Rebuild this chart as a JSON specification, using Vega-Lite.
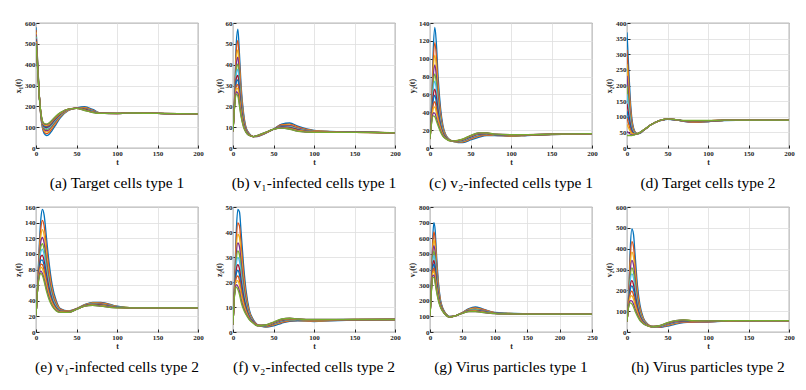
{
"$schema":"https://vega.github.io/schema/vega-lite/v6.json",
"background":"white",
"padding":{"left":14,"top":18,"right":5,"bottom":5},
"columns":4,
"spacing":{"row":59,"column":35},
"bounds":"flush",
"config":{
"view":{"stroke":"#262626","strokeWidth":0.8},
"axis":{"labelFont":"Liberation Serif","labelFontWeight":"bold","labelFontSize":7,"labelColor":"#262626","titleFont":"Liberation Serif","titleFontSize":8,"titleFontWeight":"bold","titleColor":"#262626","gridColor":"#dedede","gridWidth":0.8,"domain":false,"tickColor":"#262626","tickSize":-3,"labelPadding":4,"titlePadding":2,"labelFlush":false},
"title":{"orient":"bottom","font":"Liberation Serif","fontSize":15.5,"fontWeight":"normal","color":"#000","offset":10}
},
"data":{"values":[
{"p":"a","t":0,"c0":580,"c1":566,"c2":555,"c3":546,"c4":538,"c5":532,"c6":525,"c7":519,"c8":514,"c9":509,"c10":503,"c11":500},
{"p":"a","t":2,"c0":420,"c1":413,"c2":408,"c3":403,"c4":399,"c5":396,"c6":392,"c7":390,"c8":387,"c9":384,"c10":382,"c11":380},
{"p":"a","t":4,"c0":260,"c1":258,"c2":257,"c3":256,"c4":255,"c5":254,"c6":253,"c7":252,"c8":252,"c9":251,"c10":250,"c11":250},
{"p":"a","t":6,"c0":150,"c1":153,"c2":156,"c3":158,"c4":160,"c5":162,"c6":164,"c7":165,"c8":167,"c9":168,"c10":169,"c11":170},
{"p":"a","t":8,"c0":95,"c1":101,"c2":106,"c3":110,"c4":113,"c5":116,"c6":119,"c7":122,"c8":124,"c9":126,"c10":129,"c11":130},
{"p":"a","t":10,"c0":70,"c1":78,"c2":85,"c3":90,"c4":95,"c5":99,"c6":103,"c7":106,"c8":110,"c9":113,"c10":116,"c11":118},
{"p":"a","t":13,"c0":60,"c1":69,"c2":77,"c3":83,"c4":89,"c5":93,"c6":98,"c7":102,"c8":106,"c9":109,"c10":113,"c11":115},
{"p":"a","t":16,"c0":65,"c1":74,"c2":82,"c3":88,"c4":94,"c5":98,"c6":103,"c7":107,"c8":111,"c9":114,"c10":118,"c11":120},
{"p":"a","t":20,"c0":85,"c1":94,"c2":101,"c3":106,"c4":111,"c5":115,"c6":120,"c7":123,"c8":127,"c9":130,"c10":133,"c11":135},
{"p":"a","t":25,"c0":115,"c1":122,"c2":127,"c3":132,"c4":136,"c5":139,"c6":143,"c7":145,"c8":148,"c9":151,"c10":153,"c11":155},
{"p":"a","t":30,"c0":145,"c1":149,"c2":153,"c3":156,"c4":158,"c5":160,"c6":162,"c7":164,"c8":166,"c9":167,"c10":169,"c11":170},
{"p":"a","t":40,"c0":180,"c1":181,"c2":182,"c3":183,"c4":184,"c5":184,"c6":185,"c7":185,"c8":186,"c9":186,"c10":187,"c11":187},
{"p":"a","t":50,"c0":192,"c1":192,"c2":191,"c3":191,"c4":191,"c5":191,"c6":191,"c7":190,"c8":190,"c9":190,"c10":190,"c11":190},
{"p":"a","t":60,"c0":198,"c1":195,"c2":192,"c3":190,"c4":189,"c5":187,"c6":186,"c7":184,"c8":183,"c9":182,"c10":181,"c11":180},
{"p":"a","t":70,"c0":185,"c1":182,"c2":180,"c3":179,"c4":177,"c5":176,"c6":175,"c7":174,"c8":173,"c9":172,"c10":171,"c11":170},
{"p":"a","t":80,"c0":168,"c1":168,"c2":167,"c3":167,"c4":167,"c5":167,"c6":167,"c7":166,"c8":166,"c9":166,"c10":166,"c11":166},
{"p":"a","t":100,"c0":165,"c1":165,"c2":165,"c3":165,"c4":166,"c5":166,"c6":166,"c7":166,"c8":166,"c9":166,"c10":166,"c11":166},
{"p":"a","t":120,"c0":170,"c1":170,"c2":169,"c3":169,"c4":169,"c5":169,"c6":169,"c7":168,"c8":168,"c9":168,"c10":168,"c11":168},
{"p":"a","t":150,"c0":166,"c1":166,"c2":166,"c3":166,"c4":166,"c5":166,"c6":166,"c7":166,"c8":166,"c9":166,"c10":166,"c11":166},
{"p":"a","t":200,"c0":164,"c1":164,"c2":164,"c3":164,"c4":164,"c5":164,"c6":164,"c7":164,"c8":164,"c9":164,"c10":164,"c11":164},

{"p":"b","t":0,"c0":8,"c1":8,"c2":8,"c3":8,"c4":8,"c5":8,"c6":8,"c7":8,"c8":8,"c9":8,"c10":8,"c11":8},
{"p":"b","t":2,"c0":25,"c1":24.2,"c2":23.5,"c3":22.9,"c4":22.4,"c5":22,"c6":21.6,"c7":21.2,"c8":20.9,"c9":20.6,"c10":20.2,"c11":20},
{"p":"b","t":4,"c0":50,"c1":45.9,"c2":42.6,"c3":39.9,"c4":37.5,"c5":35.6,"c6":33.4,"c7":31.8,"c8":30.1,"c9":28.6,"c10":27,"c11":26},
{"p":"b","t":6,"c0":57,"c1":51.6,"c2":47.1,"c3":43.6,"c4":40.4,"c5":37.8,"c6":34.9,"c7":32.7,"c8":30.4,"c9":28.5,"c10":26.3,"c11":25},
{"p":"b","t":8,"c0":45,"c1":40.8,"c2":37.3,"c3":34.5,"c4":32,"c5":30,"c6":27.8,"c7":26,"c8":24.3,"c9":22.8,"c10":21,"c11":20},
{"p":"b","t":10,"c0":30,"c1":27.5,"c2":25.4,"c3":23.7,"c4":22.2,"c5":21,"c6":19.7,"c7":18.6,"c8":17.6,"c9":16.7,"c10":15.6,"c11":15},
{"p":"b","t":13,"c0":17,"c1":15.8,"c2":14.8,"c3":14.1,"c4":13.4,"c5":12.8,"c6":12.2,"c7":11.7,"c8":11.2,"c9":10.8,"c10":10.3,"c11":10},
{"p":"b","t":16,"c0":10,"c1":9.6,"c2":9.2,"c3":9,"c4":8.7,"c5":8.5,"c6":8.3,"c7":8.1,"c8":7.9,"c9":7.8,"c10":7.6,"c11":7.5},
{"p":"b","t":20,"c0":7,"c1":6.8,"c2":6.7,"c3":6.6,"c4":6.5,"c5":6.4,"c6":6.3,"c7":6.2,"c8":6.2,"c9":6.1,"c10":6,"c11":6},
{"p":"b","t":25,"c0":5.5,"c1":5.5,"c2":5.5,"c3":5.5,"c4":5.5,"c5":5.5,"c6":5.5,"c7":5.5,"c8":5.5,"c9":5.5,"c10":5.5,"c11":5.5},
{"p":"b","t":30,"c0":5.5,"c1":5.6,"c2":5.7,"c3":5.7,"c4":5.8,"c5":5.8,"c6":5.8,"c7":5.9,"c8":5.9,"c9":5.9,"c10":6,"c11":6},
{"p":"b","t":40,"c0":7,"c1":7.1,"c2":7.2,"c3":7.2,"c4":7.3,"c5":7.3,"c6":7.3,"c7":7.4,"c8":7.4,"c9":7.4,"c10":7.5,"c11":7.5},
{"p":"b","t":50,"c0":9,"c1":9,"c2":9,"c3":9,"c4":9,"c5":9,"c6":9,"c7":9,"c8":9,"c9":9,"c10":9,"c11":9},
{"p":"b","t":60,"c0":11.5,"c1":11.2,"c2":10.9,"c3":10.7,"c4":10.5,"c5":10.3,"c6":10.1,"c7":10,"c8":9.8,"c9":9.7,"c10":9.6,"c11":9.5},
{"p":"b","t":70,"c0":12,"c1":11.5,"c2":11.1,"c3":10.7,"c4":10.4,"c5":10.2,"c6":9.9,"c7":9.7,"c8":9.5,"c9":9.3,"c10":9.1,"c11":9},
{"p":"b","t":80,"c0":10.5,"c1":10.1,"c2":9.7,"c3":9.5,"c4":9.2,"c5":9,"c6":8.8,"c7":8.6,"c8":8.4,"c9":8.3,"c10":8.1,"c11":8},
{"p":"b","t":100,"c0":8.5,"c1":8.3,"c2":8.2,"c3":8.1,"c4":8,"c5":7.9,"c6":7.8,"c7":7.7,"c8":7.7,"c9":7.6,"c10":7.5,"c11":7.5},
{"p":"b","t":120,"c0":8,"c1":7.9,"c2":7.8,"c3":7.8,"c4":7.7,"c5":7.7,"c6":7.7,"c7":7.6,"c8":7.6,"c9":7.6,"c10":7.5,"c11":7.5},
{"p":"b","t":150,"c0":7.8,"c1":7.7,"c2":7.7,"c3":7.7,"c4":7.6,"c5":7.6,"c6":7.6,"c7":7.6,"c8":7.5,"c9":7.5,"c10":7.5,"c11":7.5},
{"p":"b","t":200,"c0":7.3,"c1":7.3,"c2":7.3,"c3":7.3,"c4":7.3,"c5":7.3,"c6":7.3,"c7":7.3,"c8":7.3,"c9":7.3,"c10":7.3,"c11":7.3},

{"p":"c","t":0,"c0":10,"c1":10,"c2":10,"c3":10,"c4":10,"c5":10,"c6":10,"c7":10,"c8":10,"c9":10,"c10":10,"c11":10},
{"p":"c","t":2,"c0":50,"c1":46,"c2":43,"c3":41,"c4":39,"c5":37,"c6":35,"c7":33,"c8":32,"c9":30,"c10":29,"c11":28},
{"p":"c","t":4,"c0":110,"c1":97,"c2":87,"c3":79,"c4":72,"c5":66,"c6":59,"c7":54,"c8":49,"c9":44,"c10":39,"c11":36},
{"p":"c","t":6,"c0":135,"c1":118,"c2":104,"c3":93,"c4":83,"c5":75,"c6":66,"c7":59,"c8":52,"c9":46,"c10":39,"c11":35},
{"p":"c","t":8,"c0":115,"c1":101,"c2":89,"c3":79,"c4":71,"c5":64,"c6":56,"c7":50,"c8":44,"c9":39,"c10":33,"c11":30},
{"p":"c","t":10,"c0":80,"c1":71,"c2":63,"c3":57,"c4":51,"c5":47,"c6":42,"c7":38,"c8":34,"c9":31,"c10":27,"c11":25},
{"p":"c","t":13,"c0":45,"c1":40,"c2":37,"c3":34,"c4":31,"c5":29,"c6":26,"c7":25,"c8":23,"c9":21,"c10":19,"c11":18},
{"p":"c","t":16,"c0":25,"c1":23,"c2":21.3,"c3":20,"c4":18.8,"c5":17.8,"c6":16.7,"c7":15.9,"c8":15,"c9":14.3,"c10":13.5,"c11":13},
{"p":"c","t":20,"c0":14,"c1":13.3,"c2":12.8,"c3":12.3,"c4":11.9,"c5":11.6,"c6":11.2,"c7":11,"c8":10.7,"c9":10.4,"c10":10.2,"c11":10},
{"p":"c","t":25,"c0":9,"c1":8.8,"c2":8.7,"c3":8.6,"c4":8.5,"c5":8.4,"c6":8.3,"c7":8.2,"c8":8.2,"c9":8.1,"c10":8,"c11":8},
{"p":"c","t":30,"c0":7,"c1":7.2,"c2":7.3,"c3":7.4,"c4":7.5,"c5":7.6,"c6":7.7,"c7":7.8,"c8":7.8,"c9":7.9,"c10":8,"c11":8},
{"p":"c","t":40,"c0":6,"c1":6.7,"c2":7.2,"c3":7.7,"c4":8.1,"c5":8.4,"c6":8.8,"c7":9,"c8":9.3,"c9":9.6,"c10":9.8,"c11":10},
{"p":"c","t":50,"c0":9,"c1":9.9,"c2":10.6,"c3":11.1,"c4":11.6,"c5":12,"c6":12.5,"c7":12.8,"c8":13.2,"c9":13.5,"c10":13.8,"c11":14},
{"p":"c","t":60,"c0":12,"c1":12.9,"c2":13.6,"c3":14.1,"c4":14.6,"c5":15,"c6":15.5,"c7":15.8,"c8":16.2,"c9":16.5,"c10":16.8,"c11":17},
{"p":"c","t":70,"c0":14,"c1":14.5,"c2":14.9,"c3":15.3,"c4":15.6,"c5":15.8,"c6":16.1,"c7":16.3,"c8":16.5,"c9":16.7,"c10":16.9,"c11":17},
{"p":"c","t":80,"c0":14,"c1":14.3,"c2":14.5,"c3":14.6,"c4":14.8,"c5":14.9,"c6":15,"c7":15.1,"c8":15.2,"c9":15.3,"c10":15.4,"c11":15.5},
{"p":"c","t":100,"c0":13,"c1":13.3,"c2":13.6,"c3":13.8,"c4":14,"c5":14.2,"c6":14.4,"c7":14.5,"c8":14.7,"c9":14.8,"c10":14.9,"c11":15},
{"p":"c","t":120,"c0":14,"c1":14.2,"c2":14.3,"c3":14.4,"c4":14.5,"c5":14.6,"c6":14.7,"c7":14.8,"c8":14.8,"c9":14.9,"c10":15,"c11":15},
{"p":"c","t":150,"c0":15,"c1":15.1,"c2":15.2,"c3":15.2,"c4":15.3,"c5":15.3,"c6":15.3,"c7":15.4,"c8":15.4,"c9":15.4,"c10":15.5,"c11":15.5},
{"p":"c","t":200,"c0":16,"c1":16,"c2":16,"c3":16,"c4":16,"c5":16,"c6":16,"c7":16,"c8":16,"c9":16,"c10":16,"c11":16},

{"p":"d","t":0,"c0":370,"c1":314,"c2":268,"c3":231,"c4":198,"c5":172,"c6":142,"c7":119,"c8":96,"c9":76,"c10":53,"c11":40},
{"p":"d","t":2,"c0":260,"c1":223,"c2":192,"c3":168,"c4":146,"c5":128,"c6":108,"c7":93,"c8":77,"c9":64,"c10":49,"c11":40},
{"p":"d","t":4,"c0":160,"c1":140,"c2":123,"c3":110,"c4":98,"c5":88,"c6":77,"c7":69,"c8":60,"c9":53,"c10":45,"c11":40},
{"p":"d","t":6,"c0":95,"c1":86,"c2":78,"c3":72,"c4":66,"c5":62,"c6":57,"c7":53,"c8":49,"c9":46,"c10":42,"c11":40},
{"p":"d","t":8,"c0":65,"c1":61,"c2":58,"c3":55,"c4":53,"c5":51,"c6":48,"c7":47,"c8":45,"c9":44,"c10":42,"c11":41},
{"p":"d","t":10,"c0":52,"c1":50.5,"c2":49.2,"c3":48.2,"c4":47.3,"c5":46.6,"c6":45.8,"c7":45.2,"c8":44.5,"c9":44,"c10":43.4,"c11":43},
{"p":"d","t":13,"c0":46,"c1":46,"c2":46,"c3":46,"c4":46,"c5":46,"c6":46,"c7":46,"c8":46,"c9":46,"c10":46,"c11":46},
{"p":"d","t":16,"c0":47,"c1":47.5,"c2":47.9,"c3":48.3,"c4":48.6,"c5":48.8,"c6":49.1,"c7":49.3,"c8":49.5,"c9":49.7,"c10":49.9,"c11":50},
{"p":"d","t":20,"c0":55,"c1":55.3,"c2":55.6,"c3":55.8,"c4":56,"c5":56.2,"c6":56.4,"c7":56.5,"c8":56.7,"c9":56.8,"c10":56.9,"c11":57},
{"p":"d","t":25,"c0":65,"c1":65.2,"c2":65.3,"c3":65.4,"c4":65.5,"c5":65.6,"c6":65.7,"c7":65.8,"c8":65.8,"c9":65.9,"c10":66,"c11":66},
{"p":"d","t":30,"c0":75,"c1":75,"c2":75,"c3":75,"c4":75,"c5":75,"c6":75,"c7":75,"c8":75,"c9":75,"c10":75,"c11":75},
{"p":"d","t":40,"c0":87,"c1":87.2,"c2":87.3,"c3":87.4,"c4":87.5,"c5":87.6,"c6":87.7,"c7":87.8,"c8":87.8,"c9":87.9,"c10":88,"c11":88},
{"p":"d","t":50,"c0":92,"c1":92.2,"c2":92.3,"c3":92.4,"c4":92.5,"c5":92.6,"c6":92.7,"c7":92.8,"c8":92.8,"c9":92.9,"c10":93,"c11":93},
{"p":"d","t":60,"c0":90,"c1":90.2,"c2":90.3,"c3":90.4,"c4":90.5,"c5":90.6,"c6":90.7,"c7":90.8,"c8":90.8,"c9":90.9,"c10":91,"c11":91},
{"p":"d","t":70,"c0":85,"c1":85.5,"c2":85.9,"c3":86.3,"c4":86.6,"c5":86.8,"c6":87.1,"c7":87.3,"c8":87.5,"c9":87.7,"c10":87.9,"c11":88},
{"p":"d","t":80,"c0":82,"c1":83,"c2":83.9,"c3":84.5,"c4":85.1,"c5":85.6,"c6":86.1,"c7":86.6,"c8":87,"c9":87.3,"c10":87.8,"c11":88},
{"p":"d","t":100,"c0":84,"c1":84.7,"c2":85.2,"c3":85.7,"c4":86.1,"c5":86.4,"c6":86.8,"c7":87,"c8":87.3,"c9":87.6,"c10":87.8,"c11":88},
{"p":"d","t":120,"c0":88,"c1":88.2,"c2":88.3,"c3":88.4,"c4":88.5,"c5":88.6,"c6":88.7,"c7":88.8,"c8":88.8,"c9":88.9,"c10":89,"c11":89},
{"p":"d","t":150,"c0":89,"c1":89,"c2":89,"c3":89,"c4":89,"c5":89,"c6":89,"c7":89,"c8":89,"c9":89,"c10":89,"c11":89},
{"p":"d","t":200,"c0":89,"c1":89,"c2":89,"c3":89,"c4":89,"c5":89,"c6":89,"c7":89,"c8":89,"c9":89,"c10":89,"c11":89},

{"p":"e","t":0,"c0":20,"c1":20,"c2":20,"c3":20,"c4":20,"c5":20,"c6":20,"c7":20,"c8":20,"c9":20,"c10":20,"c11":20},
{"p":"e","t":2,"c0":60,"c1":59.2,"c2":58.5,"c3":57.9,"c4":57.4,"c5":57,"c6":56.6,"c7":56.2,"c8":55.9,"c9":55.6,"c10":55.2,"c11":55},
{"p":"e","t":4,"c0":110,"c1":103,"c2":98,"c3":93,"c4":89,"c5":86,"c6":82,"c7":80,"c8":77,"c9":74,"c10":72,"c11":70},
{"p":"e","t":6,"c0":145,"c1":133,"c2":123,"c3":116,"c4":109,"c5":103,"c6":97,"c7":92,"c8":87,"c9":83,"c10":78,"c11":75},
{"p":"e","t":8,"c0":157,"c1":143,"c2":131,"c3":121,"c4":113,"c5":106,"c6":98,"c7":92,"c8":86,"c9":81,"c10":75,"c11":72},
{"p":"e","t":10,"c0":150,"c1":136,"c2":124,"c3":114,"c4":106,"c5":99,"c6":91,"c7":85,"c8":79,"c9":74,"c10":68,"c11":65},
{"p":"e","t":13,"c0":120,"c1":108,"c2":99,"c3":91,"c4":85,"c5":79,"c6":73,"c7":68,"c8":64,"c9":60,"c10":55,"c11":52},
{"p":"e","t":16,"c0":90,"c1":82,"c2":75,"c3":70,"c4":65,"c5":61,"c6":57,"c7":54,"c8":50,"c9":47,"c10":44,"c11":42},
{"p":"e","t":20,"c0":60,"c1":55,"c2":52,"c3":49,"c4":46,"c5":44,"c6":41,"c7":40,"c8":38,"c9":36,"c10":34,"c11":33},
{"p":"e","t":25,"c0":40,"c1":38,"c2":36,"c3":34.5,"c4":33.2,"c5":32.2,"c6":31,"c7":30.1,"c8":29.2,"c9":28.4,"c10":27.5,"c11":27},
{"p":"e","t":30,"c0":30,"c1":29.2,"c2":28.5,"c3":27.9,"c4":27.4,"c5":27,"c6":26.6,"c7":26.2,"c8":25.9,"c9":25.6,"c10":25.2,"c11":25},
{"p":"e","t":40,"c0":27,"c1":26.7,"c2":26.4,"c3":26.2,"c4":26,"c5":25.8,"c6":25.6,"c7":25.5,"c8":25.3,"c9":25.2,"c10":25.1,"c11":25},
{"p":"e","t":50,"c0":30,"c1":29.8,"c2":29.7,"c3":29.6,"c4":29.5,"c5":29.4,"c6":29.3,"c7":29.2,"c8":29.2,"c9":29.1,"c10":29,"c11":29},
{"p":"e","t":60,"c0":35,"c1":34.7,"c2":34.4,"c3":34.2,"c4":34,"c5":33.8,"c6":33.6,"c7":33.5,"c8":33.3,"c9":33.2,"c10":33.1,"c11":33},
{"p":"e","t":70,"c0":38,"c1":37.3,"c2":36.8,"c3":36.3,"c4":35.9,"c5":35.6,"c6":35.2,"c7":35,"c8":34.7,"c9":34.4,"c10":34.2,"c11":34},
{"p":"e","t":80,"c0":38,"c1":37.2,"c2":36.5,"c3":35.9,"c4":35.4,"c5":35,"c6":34.6,"c7":34.2,"c8":33.9,"c9":33.6,"c10":33.2,"c11":33},
{"p":"e","t":100,"c0":33,"c1":32.7,"c2":32.4,"c3":32.2,"c4":32,"c5":31.8,"c6":31.6,"c7":31.5,"c8":31.3,"c9":31.2,"c10":31.1,"c11":31},
{"p":"e","t":120,"c0":31,"c1":31,"c2":31,"c3":31,"c4":31,"c5":31,"c6":31,"c7":31,"c8":31,"c9":31,"c10":31,"c11":31},
{"p":"e","t":150,"c0":31,"c1":31,"c2":31,"c3":31,"c4":31,"c5":31,"c6":31,"c7":31,"c8":31,"c9":31,"c10":31,"c11":31},
{"p":"e","t":200,"c0":31,"c1":31,"c2":31,"c3":31,"c4":31,"c5":31,"c6":31,"c7":31,"c8":31,"c9":31,"c10":31,"c11":31},

{"p":"f","t":0,"c0":3,"c1":3,"c2":3,"c3":3,"c4":3,"c5":3,"c6":3,"c7":3,"c8":3,"c9":3,"c10":3,"c11":3},
{"p":"f","t":2,"c0":20,"c1":19.2,"c2":18.5,"c3":17.9,"c4":17.4,"c5":17,"c6":16.6,"c7":16.2,"c8":15.9,"c9":15.6,"c10":15.2,"c11":15},
{"p":"f","t":4,"c0":40,"c1":36.3,"c2":33.2,"c3":30.8,"c4":28.6,"c5":26.8,"c6":24.8,"c7":23.3,"c8":21.7,"c9":20.4,"c10":18.9,"c11":18},
{"p":"f","t":6,"c0":49,"c1":43.6,"c2":39.1,"c3":35.6,"c4":32.4,"c5":29.8,"c6":26.9,"c7":24.7,"c8":22.4,"c9":20.5,"c10":18.3,"c11":17},
{"p":"f","t":8,"c0":48,"c1":42.4,"c2":37.8,"c3":34.1,"c4":30.8,"c5":28.2,"c6":25.2,"c7":22.9,"c8":20.6,"c9":18.6,"c10":16.3,"c11":15},
{"p":"f","t":10,"c0":40,"c1":35.2,"c2":31.3,"c3":28.2,"c4":25.4,"c5":23.2,"c6":20.7,"c7":18.7,"c8":16.8,"c9":15.1,"c10":13.1,"c11":12},
{"p":"f","t":13,"c0":27,"c1":23.9,"c2":21.4,"c3":19.4,"c4":17.6,"c5":16.2,"c6":14.6,"c7":13.3,"c8":12.1,"c9":11,"c10":9.7,"c11":9},
{"p":"f","t":16,"c0":17,"c1":15.3,"c2":13.9,"c3":12.8,"c4":11.8,"c5":11,"c6":10.1,"c7":9.4,"c8":8.7,"c9":8.1,"c10":7.4,"c11":7},
{"p":"f","t":20,"c0":9,"c1":8.3,"c2":7.8,"c3":7.3,"c4":6.9,"c5":6.6,"c6":6.2,"c7":6,"c8":5.7,"c9":5.4,"c10":5.2,"c11":5},
{"p":"f","t":25,"c0":5,"c1":4.7,"c2":4.5,"c3":4.4,"c4":4.2,"c5":4.1,"c6":4,"c7":3.9,"c8":3.8,"c9":3.7,"c10":3.6,"c11":3.5},
{"p":"f","t":30,"c0":3,"c1":2.9,"c2":2.8,"c3":2.8,"c4":2.7,"c5":2.7,"c6":2.7,"c7":2.6,"c8":2.6,"c9":2.6,"c10":2.5,"c11":2.5},
{"p":"f","t":40,"c0":2,"c1":2.1,"c2":2.2,"c3":2.3,"c4":2.4,"c5":2.5,"c6":2.6,"c7":2.6,"c8":2.7,"c9":2.7,"c10":2.8,"c11":2.8},
{"p":"f","t":50,"c0":2.5,"c1":2.8,"c2":3,"c3":3.1,"c4":3.3,"c5":3.4,"c6":3.5,"c7":3.6,"c8":3.7,"c9":3.8,"c10":3.9,"c11":4},
{"p":"f","t":60,"c0":3.5,"c1":3.8,"c2":4,"c3":4.2,"c4":4.4,"c5":4.5,"c6":4.7,"c7":4.8,"c8":4.9,"c9":5,"c10":5.1,"c11":5.2},
{"p":"f","t":70,"c0":4.3,"c1":4.5,"c2":4.7,"c3":4.8,"c4":4.9,"c5":5,"c6":5.1,"c7":5.2,"c8":5.3,"c9":5.4,"c10":5.5,"c11":5.5},
{"p":"f","t":80,"c0":4.5,"c1":4.6,"c2":4.7,"c3":4.8,"c4":4.9,"c5":4.9,"c6":5,"c7":5,"c8":5.1,"c9":5.1,"c10":5.2,"c11":5.2},
{"p":"f","t":100,"c0":4.2,"c1":4.3,"c2":4.4,"c3":4.5,"c4":4.6,"c5":4.7,"c6":4.8,"c7":4.8,"c8":4.9,"c9":4.9,"c10":5,"c11":5},
{"p":"f","t":120,"c0":4.5,"c1":4.6,"c2":4.7,"c3":4.7,"c4":4.8,"c5":4.8,"c6":4.8,"c7":4.9,"c8":4.9,"c9":4.9,"c10":5,"c11":5},
{"p":"f","t":150,"c0":4.8,"c1":4.8,"c2":4.9,"c3":4.9,"c4":4.9,"c5":4.9,"c6":4.9,"c7":5,"c8":5,"c9":5,"c10":5,"c11":5},
{"p":"f","t":200,"c0":5,"c1":5,"c2":5,"c3":5,"c4":5,"c5":5,"c6":5,"c7":5,"c8":5,"c9":5,"c10":5,"c11":5},

{"p":"g","t":0,"c0":100,"c1":100,"c2":100,"c3":100,"c4":100,"c5":100,"c6":100,"c7":100,"c8":100,"c9":100,"c10":100,"c11":100},
{"p":"g","t":2,"c0":300,"c1":292,"c2":285,"c3":279,"c4":274,"c5":270,"c6":266,"c7":262,"c8":259,"c9":256,"c10":252,"c11":250},
{"p":"g","t":4,"c0":580,"c1":541,"c2":509,"c3":483,"c4":460,"c5":442,"c6":421,"c7":405,"c8":389,"c9":375,"c10":359,"c11":350},
{"p":"g","t":6,"c0":700,"c1":640,"c2":591,"c3":553,"c4":518,"c5":490,"c6":458,"c7":434,"c8":409,"c9":388,"c10":364,"c11":350},
{"p":"g","t":8,"c0":650,"c1":592,"c2":545,"c3":507,"c4":473,"c5":446,"c6":415,"c7":392,"c8":368,"c9":347,"c10":324,"c11":310},
{"p":"g","t":10,"c0":500,"c1":459,"c2":426,"c3":399,"c4":375,"c5":356,"c6":334,"c7":318,"c8":301,"c9":286,"c10":270,"c11":260},
{"p":"g","t":13,"c0":320,"c1":300,"c2":283,"c3":270,"c4":258,"c5":248,"c6":237,"c7":229,"c8":220,"c9":213,"c10":205,"c11":200},
{"p":"g","t":16,"c0":210,"c1":201,"c2":194,"c3":189,"c4":184,"c5":180,"c6":176,"c7":172,"c8":168,"c9":166,"c10":162,"c11":160},
{"p":"g","t":20,"c0":150,"c1":147,"c2":144,"c3":142,"c4":140,"c5":138,"c6":136,"c7":135,"c8":133,"c9":132,"c10":131,"c11":130},
{"p":"g","t":25,"c0":115,"c1":113,"c2":112,"c3":111,"c4":110,"c5":109,"c6":108,"c7":107,"c8":107,"c9":106,"c10":105,"c11":105},
{"p":"g","t":30,"c0":100,"c1":99,"c2":98,"c3":98,"c4":97,"c5":97,"c6":97,"c7":96,"c8":96,"c9":96,"c10":95,"c11":95},
{"p":"g","t":40,"c0":105,"c1":105,"c2":105,"c3":105,"c4":105,"c5":105,"c6":105,"c7":105,"c8":105,"c9":105,"c10":105,"c11":105},
{"p":"g","t":50,"c0":125,"c1":124,"c2":123,"c3":123,"c4":122,"c5":122,"c6":122,"c7":121,"c8":121,"c9":121,"c10":120,"c11":120},
{"p":"g","t":60,"c0":150,"c1":147,"c2":144,"c3":142,"c4":140,"c5":138,"c6":136,"c7":135,"c8":133,"c9":132,"c10":131,"c11":130},
{"p":"g","t":70,"c0":160,"c1":155,"c2":151,"c3":147,"c4":144,"c5":142,"c6":139,"c7":137,"c8":135,"c9":133,"c10":131,"c11":130},
{"p":"g","t":80,"c0":150,"c1":146,"c2":142,"c3":140,"c4":137,"c5":135,"c6":133,"c7":131,"c8":129,"c9":128,"c10":126,"c11":125},
{"p":"g","t":100,"c0":125,"c1":124,"c2":123,"c3":122,"c4":121,"c5":121,"c6":120,"c7":120,"c8":119,"c9":119,"c10":118,"c11":118},
{"p":"g","t":120,"c0":120,"c1":119,"c2":119,"c3":118,"c4":118,"c5":118,"c6":117,"c7":117,"c8":117,"c9":116,"c10":116,"c11":116},
{"p":"g","t":150,"c0":117,"c1":117,"c2":116,"c3":116,"c4":116,"c5":116,"c6":116,"c7":115,"c8":115,"c9":115,"c10":115,"c11":115},
{"p":"g","t":200,"c0":115,"c1":115,"c2":115,"c3":115,"c4":115,"c5":115,"c6":115,"c7":115,"c8":115,"c9":115,"c10":115,"c11":115},
{"p":"g","t":250,"c0":115,"c1":115,"c2":115,"c3":115,"c4":115,"c5":115,"c6":115,"c7":115,"c8":115,"c9":115,"c10":115,"c11":115},

{"p":"h","t":0,"c0":50,"c1":50,"c2":50,"c3":50,"c4":50,"c5":50,"c6":50,"c7":50,"c8":50,"c9":50,"c10":50,"c11":50},
{"p":"h","t":2,"c0":180,"c1":170,"c2":161,"c3":155,"c4":149,"c5":144,"c6":139,"c7":134,"c8":130,"c9":127,"c10":122,"c11":120},
{"p":"h","t":4,"c0":400,"c1":356,"c2":319,"c3":291,"c4":265,"c5":244,"c6":221,"c7":202,"c8":184,"c9":169,"c10":150,"c11":140},
{"p":"h","t":6,"c0":495,"c1":434,"c2":383,"c3":344,"c4":308,"c5":279,"c6":247,"c7":221,"c8":196,"c9":175,"c10":149,"c11":135},
{"p":"h","t":8,"c0":470,"c1":410,"c2":361,"c3":323,"c4":288,"c5":260,"c6":228,"c7":204,"c8":179,"c9":158,"c10":134,"c11":120},
{"p":"h","t":10,"c0":370,"c1":324,"c2":286,"c3":257,"c4":230,"c5":208,"c6":184,"c7":165,"c8":146,"c9":130,"c10":111,"c11":100},
{"p":"h","t":13,"c0":220,"c1":195,"c2":175,"c3":159,"c4":145,"c5":133,"c6":120,"c7":110,"c8":100,"c9":91,"c10":81,"c11":75},
{"p":"h","t":16,"c0":130,"c1":117,"c2":107,"c3":98,"c4":91,"c5":85,"c6":78,"c7":73,"c8":68,"c9":63,"c10":58,"c11":55},
{"p":"h","t":20,"c0":70,"c1":65,"c2":61,"c3":57,"c4":54,"c5":52,"c6":49,"c7":47,"c8":45,"c9":43,"c10":41,"c11":40},
{"p":"h","t":25,"c0":40,"c1":38,"c2":37,"c3":36,"c4":35,"c5":34,"c6":33,"c7":32,"c8":32,"c9":31,"c10":30,"c11":30},
{"p":"h","t":30,"c0":28,"c1":27.5,"c2":27,"c3":26.7,"c4":26.4,"c5":26.2,"c6":25.9,"c7":25.7,"c8":25.5,"c9":25.3,"c10":25.1,"c11":25},
{"p":"h","t":40,"c0":22,"c1":23,"c2":25,"c3":25,"c4":26,"c5":27,"c6":28,"c7":28,"c8":29,"c9":29,"c10":30,"c11":30},
{"p":"h","t":50,"c0":28,"c1":31,"c2":33,"c3":35,"c4":37,"c5":38,"c6":40,"c7":41,"c8":42,"c9":43,"c10":44,"c11":45},
{"p":"h","t":60,"c0":38,"c1":41,"c2":43,"c3":45,"c4":47,"c5":48,"c6":50,"c7":51,"c8":52,"c9":53,"c10":54,"c11":55},
{"p":"h","t":70,"c0":45,"c1":47,"c2":49,"c3":50.5,"c4":52,"c5":53,"c6":54,"c7":55,"c8":56,"c9":57,"c10":57.5,"c11":58},
{"p":"h","t":80,"c0":47,"c1":48,"c2":49.5,"c3":50.4,"c4":51,"c5":51.8,"c6":52.5,"c7":53,"c8":53.6,"c9":54,"c10":54.7,"c11":55},
{"p":"h","t":100,"c0":48,"c1":48.9,"c2":49.6,"c3":50.1,"c4":50.6,"c5":51,"c6":51.5,"c7":51.8,"c8":52.2,"c9":52.5,"c10":52.8,"c11":53},
{"p":"h","t":120,"c0":52,"c1":52.3,"c2":52.6,"c3":52.8,"c4":53,"c5":53.2,"c6":53.4,"c7":53.5,"c8":53.7,"c9":53.8,"c10":53.9,"c11":54},
{"p":"h","t":150,"c0":54,"c1":54.2,"c2":54.3,"c3":54.4,"c4":54.5,"c5":54.6,"c6":54.7,"c7":54.8,"c8":54.8,"c9":54.9,"c10":55,"c11":55},
{"p":"h","t":200,"c0":55,"c1":55,"c2":55,"c3":55,"c4":55,"c5":55,"c6":55,"c7":55,"c8":55,"c9":55,"c10":55,"c11":55}
]},
"concat":[
{"title":"(a)  Target cells type 1","width":162,"height":125,
"transform":[{"filter":"datum.p==='a'"},{"fold":["c0","c1","c2","c3","c4","c5","c6","c7","c8","c9","c10","c11"],"as":["s","y"]}],
"mark":{"type":"line","strokeWidth":1.3,"interpolate":"monotone","clip":true},
"encoding":{
"x":{"field":"t","type":"quantitative","scale":{"domain":[0,200],"nice":false},"axis":{"values":[0,50,100,150,200],"title":"t"}},
"y":{"field":"y","type":"quantitative","scale":{"domain":[0,600],"nice":false},"axis":{"values":[0,100,200,300,400,500,600],"title":"x₁(t)"}},
"color":{"field":"s","type":"nominal","scale":{"domain":["c0","c1","c2","c3","c4","c5","c6","c7","c8","c9","c10","c11"],"range":["#0072BD","#D95319","#EDB120","#7E2F8E","#77AC30","#4DBEEE","#A2142F","#0072BD","#D95319","#EDB120","#7E2F8E","#77AC30"]},"legend":null}}},
{"title":"(b)  v₁-infected cells type 1","width":162,"height":125,
"transform":[{"filter":"datum.p==='b'"},{"fold":["c0","c1","c2","c3","c4","c5","c6","c7","c8","c9","c10","c11"],"as":["s","y"]}],
"mark":{"type":"line","strokeWidth":1.3,"interpolate":"monotone","clip":true},
"encoding":{
"x":{"field":"t","type":"quantitative","scale":{"domain":[0,200],"nice":false},"axis":{"values":[0,50,100,150,200],"title":"t"}},
"y":{"field":"y","type":"quantitative","scale":{"domain":[0,60],"nice":false},"axis":{"values":[0,10,20,30,40,50,60],"title":"y₁(t)"}},
"color":{"field":"s","type":"nominal","scale":{"domain":["c0","c1","c2","c3","c4","c5","c6","c7","c8","c9","c10","c11"],"range":["#0072BD","#D95319","#EDB120","#7E2F8E","#77AC30","#4DBEEE","#A2142F","#0072BD","#D95319","#EDB120","#7E2F8E","#77AC30"]},"legend":null}}},
{"title":"(c)  v₂-infected cells type 1","width":162,"height":125,
"transform":[{"filter":"datum.p==='c'"},{"fold":["c0","c1","c2","c3","c4","c5","c6","c7","c8","c9","c10","c11"],"as":["s","y"]}],
"mark":{"type":"line","strokeWidth":1.3,"interpolate":"monotone","clip":true},
"encoding":{
"x":{"field":"t","type":"quantitative","scale":{"domain":[0,200],"nice":false},"axis":{"values":[0,50,100,150,200],"title":"t"}},
"y":{"field":"y","type":"quantitative","scale":{"domain":[0,140],"nice":false},"axis":{"values":[0,20,40,60,80,100,120,140],"title":"y₂(t)"}},
"color":{"field":"s","type":"nominal","scale":{"domain":["c0","c1","c2","c3","c4","c5","c6","c7","c8","c9","c10","c11"],"range":["#0072BD","#D95319","#EDB120","#7E2F8E","#77AC30","#4DBEEE","#A2142F","#0072BD","#D95319","#EDB120","#7E2F8E","#77AC30"]},"legend":null}}},
{"title":"(d)  Target cells type 2","width":162,"height":125,
"transform":[{"filter":"datum.p==='d'"},{"fold":["c0","c1","c2","c3","c4","c5","c6","c7","c8","c9","c10","c11"],"as":["s","y"]}],
"mark":{"type":"line","strokeWidth":1.3,"interpolate":"monotone","clip":true},
"encoding":{
"x":{"field":"t","type":"quantitative","scale":{"domain":[0,200],"nice":false},"axis":{"values":[0,50,100,150,200],"title":"t"}},
"y":{"field":"y","type":"quantitative","scale":{"domain":[0,400],"nice":false},"axis":{"values":[0,50,100,150,200,250,300,350,400],"title":"x₂(t)"}},
"color":{"field":"s","type":"nominal","scale":{"domain":["c0","c1","c2","c3","c4","c5","c6","c7","c8","c9","c10","c11"],"range":["#0072BD","#D95319","#EDB120","#7E2F8E","#77AC30","#4DBEEE","#A2142F","#0072BD","#D95319","#EDB120","#7E2F8E","#77AC30"]},"legend":null}}},
{"title":"(e)  v₁-infected cells type 2","width":162,"height":125,
"transform":[{"filter":"datum.p==='e'"},{"fold":["c0","c1","c2","c3","c4","c5","c6","c7","c8","c9","c10","c11"],"as":["s","y"]}],
"mark":{"type":"line","strokeWidth":1.3,"interpolate":"monotone","clip":true},
"encoding":{
"x":{"field":"t","type":"quantitative","scale":{"domain":[0,200],"nice":false},"axis":{"values":[0,50,100,150,200],"title":"t"}},
"y":{"field":"y","type":"quantitative","scale":{"domain":[0,160],"nice":false},"axis":{"values":[0,20,40,60,80,100,120,140,160],"title":"z₁(t)"}},
"color":{"field":"s","type":"nominal","scale":{"domain":["c0","c1","c2","c3","c4","c5","c6","c7","c8","c9","c10","c11"],"range":["#0072BD","#D95319","#EDB120","#7E2F8E","#77AC30","#4DBEEE","#A2142F","#0072BD","#D95319","#EDB120","#7E2F8E","#77AC30"]},"legend":null}}},
{"title":"(f)  v₂-infected cells type 2","width":162,"height":125,
"transform":[{"filter":"datum.p==='f'"},{"fold":["c0","c1","c2","c3","c4","c5","c6","c7","c8","c9","c10","c11"],"as":["s","y"]}],
"mark":{"type":"line","strokeWidth":1.3,"interpolate":"monotone","clip":true},
"encoding":{
"x":{"field":"t","type":"quantitative","scale":{"domain":[0,200],"nice":false},"axis":{"values":[0,50,100,150,200],"title":"t"}},
"y":{"field":"y","type":"quantitative","scale":{"domain":[0,50],"nice":false},"axis":{"values":[0,10,20,30,40,50],"title":"z₂(t)"}},
"color":{"field":"s","type":"nominal","scale":{"domain":["c0","c1","c2","c3","c4","c5","c6","c7","c8","c9","c10","c11"],"range":["#0072BD","#D95319","#EDB120","#7E2F8E","#77AC30","#4DBEEE","#A2142F","#0072BD","#D95319","#EDB120","#7E2F8E","#77AC30"]},"legend":null}}},
{"title":"(g)  Virus particles type 1","width":162,"height":125,
"transform":[{"filter":"datum.p==='g'"},{"fold":["c0","c1","c2","c3","c4","c5","c6","c7","c8","c9","c10","c11"],"as":["s","y"]}],
"mark":{"type":"line","strokeWidth":1.3,"interpolate":"monotone","clip":true},
"encoding":{
"x":{"field":"t","type":"quantitative","scale":{"domain":[0,250],"nice":false},"axis":{"values":[0,50,100,150,200,250],"title":"t"}},
"y":{"field":"y","type":"quantitative","scale":{"domain":[0,800],"nice":false},"axis":{"values":[0,100,200,300,400,500,600,700,800],"title":"v₁(t)"}},
"color":{"field":"s","type":"nominal","scale":{"domain":["c0","c1","c2","c3","c4","c5","c6","c7","c8","c9","c10","c11"],"range":["#0072BD","#D95319","#EDB120","#7E2F8E","#77AC30","#4DBEEE","#A2142F","#0072BD","#D95319","#EDB120","#7E2F8E","#77AC30"]},"legend":null}}},
{"title":"(h)  Virus particles type 2","width":162,"height":125,
"transform":[{"filter":"datum.p==='h'"},{"fold":["c0","c1","c2","c3","c4","c5","c6","c7","c8","c9","c10","c11"],"as":["s","y"]}],
"mark":{"type":"line","strokeWidth":1.3,"interpolate":"monotone","clip":true},
"encoding":{
"x":{"field":"t","type":"quantitative","scale":{"domain":[0,200],"nice":false},"axis":{"values":[0,50,100,150,200],"title":"t"}},
"y":{"field":"y","type":"quantitative","scale":{"domain":[0,600],"nice":false},"axis":{"values":[0,100,200,300,400,500,600],"title":"v₂(t)"}},
"color":{"field":"s","type":"nominal","scale":{"domain":["c0","c1","c2","c3","c4","c5","c6","c7","c8","c9","c10","c11"],"range":["#0072BD","#D95319","#EDB120","#7E2F8E","#77AC30","#4DBEEE","#A2142F","#0072BD","#D95319","#EDB120","#7E2F8E","#77AC30"]},"legend":null}}}
]
}
